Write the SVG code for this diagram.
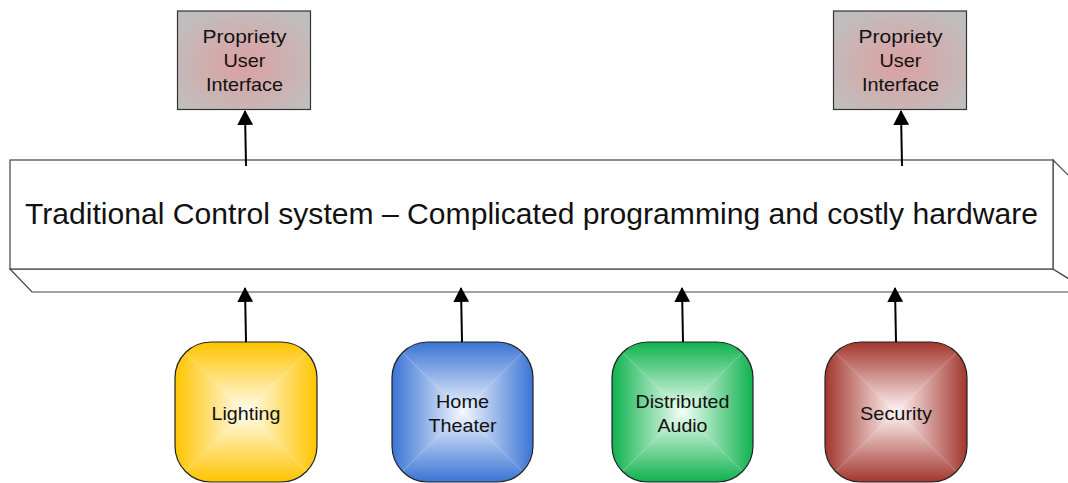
<svg xmlns="http://www.w3.org/2000/svg" xmlns:xlink="http://www.w3.org/1999/xlink" width="1068" height="483" viewBox="0 0 1068 483">
<style>
text{font-family:"Liberation Sans",Arial,Helvetica,sans-serif;fill:#111;text-anchor:middle}
.lbl{font-size:19px}
.main{font-size:29px}
.ui{stroke:#333;stroke-width:1.2}
.face{fill:#fff;stroke:#444;stroke-width:1.2}
.conn{stroke:#000;stroke-width:2;fill:none;marker-end:url(#ah)}
.edge{fill:none;stroke:#222;stroke-width:1.2}
</style>
<defs>
<marker id="ah" viewBox="0 0 15 16" markerWidth="15" markerHeight="16" refX="14" refY="8" orient="auto" markerUnits="userSpaceOnUse"><path d="M0,0 L15,8 L0,16 z" fill="#000"/></marker>
<radialGradient id="uiG" cx="0.5" cy="0.55" r="0.6"><stop offset="0" stop-color="#dba0a0"/><stop offset="1" stop-color="#c2bdbd"/></radialGradient>
<linearGradient id="yT" x1="0" y1="0" x2="0" y2="1"><stop offset="0" stop-color="#ffc400"/><stop offset="1" stop-color="#fffdf2"/></linearGradient>
<linearGradient id="yB" href="#yT" x1="0" y1="1" x2="0" y2="0"/>
<linearGradient id="yL" href="#yT" x1="0" y1="0" x2="1" y2="0"/>
<linearGradient id="yR" href="#yT" x1="1" y1="0" x2="0" y2="0"/>
<linearGradient id="bT" x1="0" y1="0" x2="0" y2="1"><stop offset="0" stop-color="#3a74d4"/><stop offset="1" stop-color="#f4f8ff"/></linearGradient>
<linearGradient id="bB" href="#bT" x1="0" y1="1" x2="0" y2="0"/>
<linearGradient id="bL" href="#bT" x1="0" y1="0" x2="1" y2="0"/>
<linearGradient id="bR" href="#bT" x1="1" y1="0" x2="0" y2="0"/>
<linearGradient id="gT" x1="0" y1="0" x2="0" y2="1"><stop offset="0" stop-color="#0fb24e"/><stop offset="1" stop-color="#f2fff6"/></linearGradient>
<linearGradient id="gB" href="#gT" x1="0" y1="1" x2="0" y2="0"/>
<linearGradient id="gL" href="#gT" x1="0" y1="0" x2="1" y2="0"/>
<linearGradient id="gR" href="#gT" x1="1" y1="0" x2="0" y2="0"/>
<linearGradient id="rT" x1="0" y1="0" x2="0" y2="1"><stop offset="0" stop-color="#a2362e"/><stop offset="1" stop-color="#fff6f6"/></linearGradient>
<linearGradient id="rB" href="#rT" x1="0" y1="1" x2="0" y2="0"/>
<linearGradient id="rL" href="#rT" x1="0" y1="0" x2="1" y2="0"/>
<linearGradient id="rR" href="#rT" x1="1" y1="0" x2="0" y2="0"/>
<clipPath id="c1"><rect x="175" y="342" width="142" height="140" rx="36"/></clipPath>
<clipPath id="c2"><rect x="392" y="342" width="141" height="140" rx="36"/></clipPath>
<clipPath id="c3"><rect x="612" y="342" width="141" height="140" rx="36"/></clipPath>
<clipPath id="c4"><rect x="825" y="342" width="142" height="140" rx="36"/></clipPath>
</defs>

<g id="control-system">
<polygon class="face" points="10,269 32,292 1090,292 1053,269"/>
<polygon class="face" points="1053,160 1090,197 1090,292 1053,269"/>
<rect class="face" x="10" y="160" width="1043" height="109"/>
<text class="main" x="531.5" y="224" textLength="1013" lengthAdjust="spacingAndGlyphs">Traditional Control system – Complicated programming and costly hardware</text>
</g>

<g id="ui-left">
<rect class="ui" x="177.5" y="11" width="133" height="98.5" fill="url(#uiG)"/>
<text class="lbl" x="244.5" y="43" textLength="84" lengthAdjust="spacingAndGlyphs">Propriety</text>
<text class="lbl" x="244.5" y="67" textLength="42" lengthAdjust="spacingAndGlyphs">User</text>
<text class="lbl" x="244.5" y="91" textLength="77" lengthAdjust="spacingAndGlyphs">Interface</text>
</g>

<g id="ui-right">
<rect class="ui" x="833.5" y="11" width="133" height="98.5" fill="url(#uiG)"/>
<text class="lbl" x="900.5" y="43" textLength="84" lengthAdjust="spacingAndGlyphs">Propriety</text>
<text class="lbl" x="900.5" y="67" textLength="42" lengthAdjust="spacingAndGlyphs">User</text>
<text class="lbl" x="900.5" y="91" textLength="77" lengthAdjust="spacingAndGlyphs">Interface</text>
</g>

<g id="lighting">
<g clip-path="url(#c1)">
<polygon points="175,342 317,342 246,412" fill="url(#yT)"/>
<polygon points="175,482 317,482 246,412" fill="url(#yB)"/>
<polygon points="175,342 175,482 246,412" fill="url(#yL)"/>
<polygon points="317,342 317,482 246,412" fill="url(#yR)"/>
</g>
<rect class="edge" x="175" y="342" width="142" height="140" rx="36"/>
<text class="lbl" x="246" y="420" textLength="69" lengthAdjust="spacingAndGlyphs">Lighting</text>
</g>

<g id="home-theater">
<g clip-path="url(#c2)">
<polygon points="392,342 533,342 462.5,412" fill="url(#bT)"/>
<polygon points="392,482 533,482 462.5,412" fill="url(#bB)"/>
<polygon points="392,342 392,482 462.5,412" fill="url(#bL)"/>
<polygon points="533,342 533,482 462.5,412" fill="url(#bR)"/>
</g>
<rect class="edge" x="392" y="342" width="141" height="140" rx="36"/>
<text class="lbl" x="462.5" y="408" textLength="53" lengthAdjust="spacingAndGlyphs">Home</text>
<text class="lbl" x="462.5" y="432" textLength="68" lengthAdjust="spacingAndGlyphs">Theater</text>
</g>

<g id="distributed-audio">
<g clip-path="url(#c3)">
<polygon points="612,342 753,342 682.5,412" fill="url(#gT)"/>
<polygon points="612,482 753,482 682.5,412" fill="url(#gB)"/>
<polygon points="612,342 612,482 682.5,412" fill="url(#gL)"/>
<polygon points="753,342 753,482 682.5,412" fill="url(#gR)"/>
</g>
<rect class="edge" x="612" y="342" width="141" height="140" rx="36"/>
<text class="lbl" x="682.5" y="408" textLength="94" lengthAdjust="spacingAndGlyphs">Distributed</text>
<text class="lbl" x="682.5" y="432" textLength="50" lengthAdjust="spacingAndGlyphs">Audio</text>
</g>

<g id="security">
<g clip-path="url(#c4)">
<polygon points="825,342 967,342 896,412" fill="url(#rT)"/>
<polygon points="825,482 967,482 896,412" fill="url(#rB)"/>
<polygon points="825,342 825,482 896,412" fill="url(#rL)"/>
<polygon points="967,342 967,482 896,412" fill="url(#rR)"/>
</g>
<rect class="edge" x="825" y="342" width="142" height="140" rx="36"/>
<text class="lbl" x="896" y="420" textLength="72" lengthAdjust="spacingAndGlyphs">Security</text>
</g>

<g id="connectors">
<line class="conn" x1="246" y1="166" x2="245" y2="111"/>
<line class="conn" x1="902" y1="166" x2="901" y2="111"/>
<line class="conn" x1="246" y1="342" x2="245" y2="288"/>
<line class="conn" x1="462" y1="342" x2="461" y2="288"/>
<line class="conn" x1="683" y1="342" x2="682" y2="288"/>
<line class="conn" x1="896" y1="342" x2="895" y2="288"/>
</g>
</svg>
